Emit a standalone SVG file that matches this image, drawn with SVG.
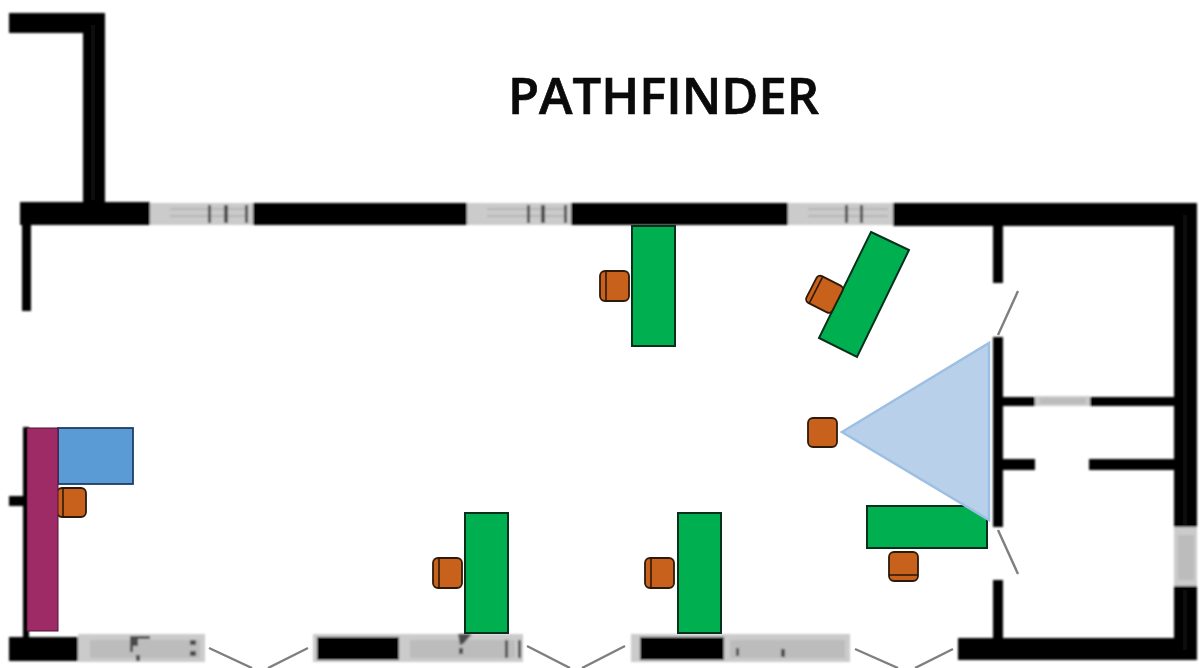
<svg xmlns="http://www.w3.org/2000/svg" width="1201" height="668" viewBox="0 0 1201 668">
<style>
.w{fill:#000}
.g{fill:#cbcbcb}
.m{fill:#4a4a4a}
.l{fill:#bcbcbc}
.s{stroke:#3a3a3a;stroke-width:.8;fill:none}
.t{stroke:#a0a0a0;stroke-width:1;fill:none}
.d{stroke:#7f7f7f;stroke-width:2.4;fill:none}
.desk{fill:#00b050;stroke:#06301b;stroke-width:2}
.chair{fill:#c8611b;stroke:#2e1a08;stroke-width:1.8}
.back{stroke:#2e1a08;stroke-width:1.6;fill:none}
</style>
<defs><filter id="soft" x="-2%" y="-2%" width="104%" height="104%"><feGaussianBlur stdDeviation="0.8"/></filter></defs>
<rect width="1201" height="668" fill="#fff"/>
<g id="walls" filter="url(#soft)">
<rect class="w" x="9" y="13" width="96" height="20"/>
<rect class="w" x="83" y="13" width="22" height="192"/>
<rect class="w" x="20" y="202" width="130" height="23"/>
<rect class="g" x="150" y="203" width="103" height="22"/>
<rect class="w" x="253" y="203" width="214" height="22"/>
<rect class="g" x="467" y="203" width="104" height="22"/>
<rect class="w" x="571" y="203" width="217" height="22"/>
<rect class="g" x="788" y="203" width="105" height="22"/>
<rect class="w" x="893" y="203" width="304" height="23"/>
<rect class="w" x="1174" y="203" width="23" height="324"/>
<rect class="g" x="1174" y="527" width="23" height="60"/>
<rect class="w" x="1174" y="586" width="23" height="74"/>
<rect class="w" x="958" y="638" width="239" height="22"/>
<rect class="w" x="993" y="225" width="10" height="58"/>
<rect class="w" x="993" y="337" width="10" height="190"/>
<rect class="w" x="993" y="580" width="10" height="60"/>
<rect class="w" x="1003" y="397" width="32" height="9"/>
<rect class="g" x="1035" y="396" width="55" height="10"/>
<rect class="w" x="1090" y="397" width="84" height="9"/>
<rect class="w" x="1003" y="459" width="32" height="11"/>
<rect class="w" x="1089" y="459" width="85" height="11"/>
<rect class="w" x="22" y="225" width="9" height="86"/>
<rect class="w" x="23" y="427" width="6" height="212"/>
<rect class="w" x="9" y="496" width="14" height="10"/>
<rect class="w" x="9" y="637" width="69" height="24"/>
<rect class="g" x="78" y="634" width="127" height="28"/>
<rect class="g" x="313" y="634" width="210" height="28"/>
<rect class="w" x="317" y="637" width="82" height="23"/>
<rect class="g" x="631" y="634" width="219" height="28"/>
<rect class="w" x="640" y="637" width="84" height="23"/>
<path class="s" d="M93 25V200M1185 215V525M1185 590V650"/>
<path class="t" d="M170 209H245M170 216H245M487 209H565M487 216H565M808 209H888M808 216H888"/>
<path class="l" d="M90 640h110v18H90zM410 640h105v18H410zM730 640h115v18H730zM1178 535h16v45h-16zM1040 398h46v6h-46z"/>
<path class="m" d="M208 205h3v18h-3zM224 205h4v18h-4zM245 205h3v18h-3zM527 205h3v18h-3zM541 205h4v18h-4zM564 205h3v18h-3zM845 205h3v18h-3zM860 205h3v18h-3z"/>
<path class="m" d="M130 636h20v3h-12v7h-5v6h-3zM136 655h4v6h-4zM190 640h6v5h-6zM190 651h6v5h-6zM505 640h3v18h-3zM518 640h3v18h-3zM458 634h14l-9 10-3 1zM459 648h4v6h-4zM781 649h4v8h-4zM736 648h3v8h-3z"/>
</g>
<g id="doors">
<path class="d" d="M209 648L252 668M308 648L268 668M527 646L570 668M625 646L582 668M855 649L898 668M953 649L915 668M998 335L1018 291M998 530L1018 574"/>
</g>
<g id="furniture">
<rect class="desk" x="632" y="226" width="43" height="120"/>
<polygon class="desk" points="871,232 909,250 857,357 819,338"/>
<rect class="desk" x="867" y="506" width="120" height="42"/>
<rect class="desk" x="465" y="513" width="43" height="120"/>
<rect class="desk" x="678" y="513" width="43" height="120"/>
<g id="chair1"><rect class="chair" x="600" y="271" width="29" height="30" rx="5"/><path class="back" d="M606 271v30"/></g>
<g id="chair2"><rect class="chair" x="433" y="558" width="29" height="30" rx="5"/><path class="back" d="M439 558v30"/></g>
<g id="chair3"><rect class="chair" x="645" y="558" width="29" height="30" rx="5"/><path class="back" d="M651 558v30"/></g>
<g id="chair4"><rect class="chair" x="808" y="418" width="29" height="29" rx="5"/></g>
<g id="chair5"><rect class="chair" x="889" y="552" width="29" height="29" rx="5"/><path class="back" d="M889 575h29"/></g>
<g id="chair6" transform="rotate(27 824 294)"><rect class="chair" x="810" y="279" width="29" height="30" rx="4"/><path class="back" d="M815 279v30"/></g>
<g id="chair7"><rect class="chair" x="57" y="488" width="29" height="29" rx="5"/><path class="back" d="M63 488v29"/></g>
<rect id="blue-desk" x="58" y="428" width="75" height="56" fill="#5b9bd5" stroke="#1f3f66" stroke-width="1.8"/>
<rect id="purple-desk" x="27" y="428" width="31" height="203" fill="#9e2a66" stroke="#4d1533" stroke-width="1"/>
<polygon id="view-cone" points="842,432 989,343 989,520" fill="#b9d0ea" stroke="#9dbfe3" stroke-width="2.5"/>
</g>
<text id="title" x="508" y="114" font-family="'Open Sans','Noto Sans',sans-serif" font-size="50" font-weight="600" stroke="#0a0a0a" stroke-width=".7" textLength="311" lengthAdjust="spacingAndGlyphs" fill="#0a0a0a">PATHFINDER</text>
</svg>
